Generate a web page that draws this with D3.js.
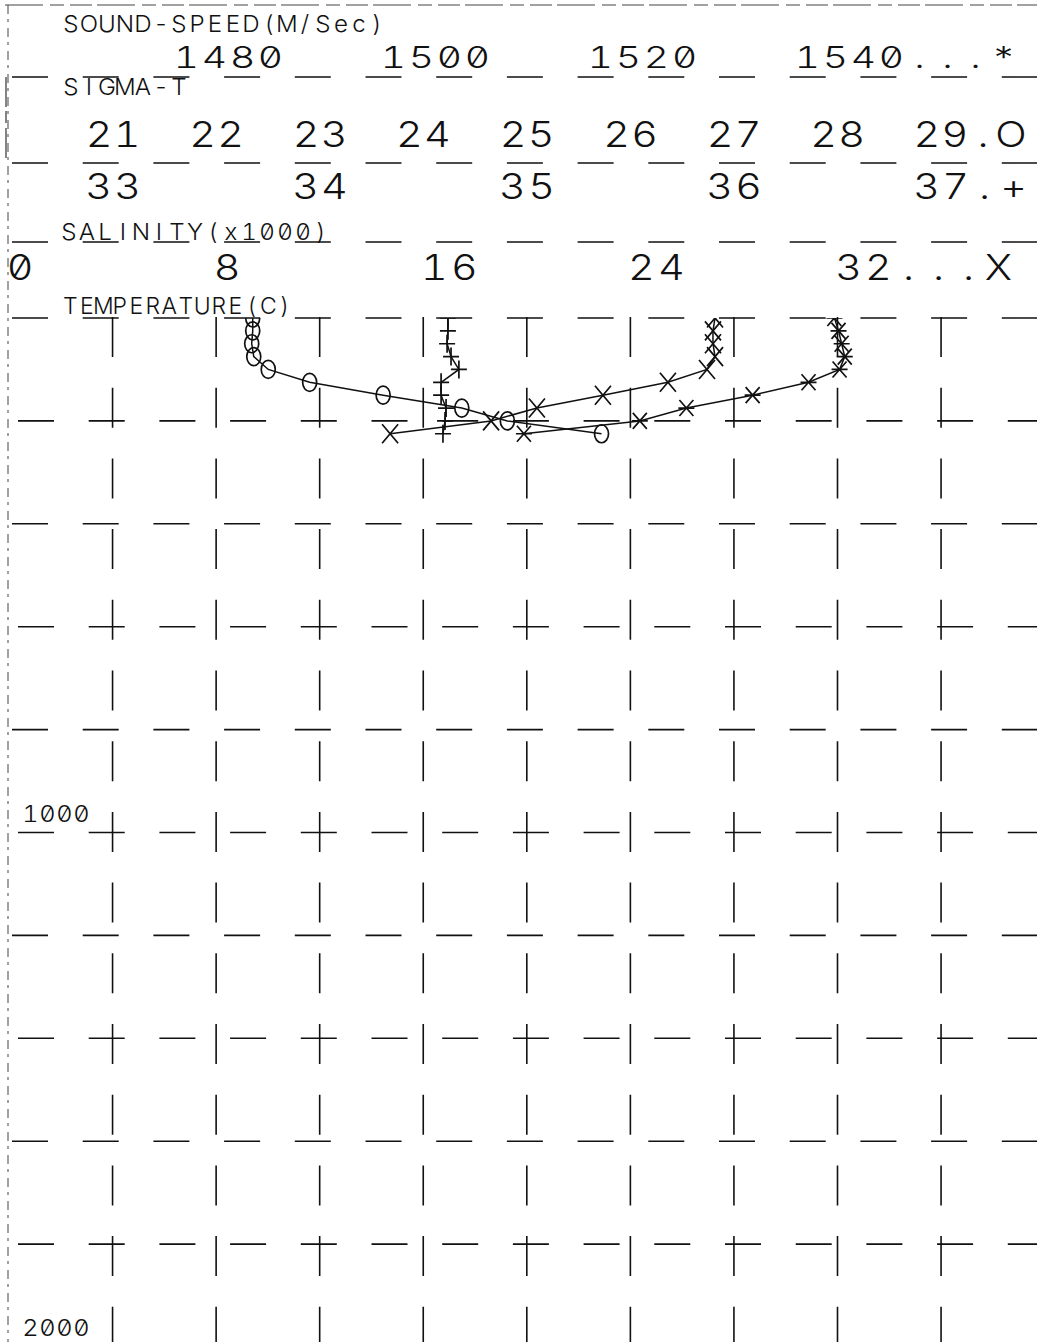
<!DOCTYPE html>
<html><head><meta charset="utf-8">
<script src="https://cdn.jsdelivr.net/npm/d3@7"></script>
<style>
html,body{margin:0;padding:0;background:#fff;}
svg{display:block;}
text{font-family:Inter,"DejaVu Sans",sans-serif;font-weight:300;fill:#111;
  font-feature-settings:"zero" 1,"tnum" 1;}
</style></head><body>
<svg id="c" width="1037" height="1342"></svg>
<script>
// ---- data ----
const depths      = [0, 25, 50, 75, 100, 125, 150, 175, 200, 225];
const temperature = [27.27, 27.19, 27.19, 27.27, 26.96, 25.45, 22.94, 20.39, 18.62, 14.72];
const salinity    = [34.618, 34.618, 34.614, 34.633, 34.671, 34.585, 34.585, 34.609, 34.604, 34.594];
const sigmaT      = [22.35, 22.35, 22.34, 22.36, 22.50, 22.90, 23.61, 24.37, 24.81, 25.72];
const soundSpeed  = [1539.7, 1540.1, 1540.4, 1540.7, 1540.2, 1537.2, 1531.8, 1525.4, 1520.9, 1509.7];

const soundTicks  = [1480, 1500, 1520, 1540];
const soundLabels = ["1480", "1500", "1520", "1540...*"];
const sigmaTicks  = [21, 22, 23, 24, 25, 26, 27, 28, 29];
const sigmaLabels = ["21", "22", "23", "24", "25", "26", "27", "28", "29.O"];
const salTicks    = [33, 34, 35, 36, 37];
const salLabels   = ["33", "34", "35", "36", "37.+"];
const tempTicks   = [0, 8, 16, 24, 32];
const tempLabels  = ["0", "8", "16", "24", "32...X"];
const depthTicks  = [1000, 2000];
const titles = {sound: "SOUND-SPEED(M/Sec)", sigma: "SIGMA-T", sal: "SALINITY(x1000)", temp: "TEMPERATURE(C)"};

// ---- scales ----
const W = 1037, H = 1342;
const xT   = d3.scaleLinear().domain([0, 32]).range([9, 837.5]);
const xSig = d3.scaleLinear().domain([21, 29]).range([113, 941]);
const xSal = d3.scaleLinear().domain([33, 37]).range([113, 941]);
const xSnd = d3.scaleLinear().domain([1480, 1540]).range([216.5, 837.5]);
const yD   = d3.scaleLinear().domain([0, 2000]).range([318, 1347]);

const svg = d3.select("#c");
const INK = "#111";
const PERIOD = 70.7, DASH = 36;

function hline(y, x0, phase0, w) {
  const off = ((x0 - phase0) % PERIOD + PERIOD) % PERIOD;
  svg.append("line").attr("x1", x0).attr("x2", W + 5).attr("y1", y).attr("y2", y)
    .attr("stroke", INK).attr("stroke-width", w || 1.6)
    .attr("stroke-dasharray", DASH + " " + (PERIOD - DASH))
    .attr("stroke-dashoffset", off);
}

// page frame (fine dashed)
svg.append("line").attr("x1", 5).attr("x2", W).attr("y1", 5).attr("y2", 5)
  .attr("stroke", "#444").attr("stroke-width", 1.1).attr("stroke-dasharray", "38 7 14 6 22 5");
svg.append("line").attr("x1", 8).attr("x2", 8).attr("y1", 5).attr("y2", H)
  .attr("stroke", "#555").attr("stroke-width", 1.1).attr("stroke-dasharray", "9 5 3 6");
svg.append("line").attr("x1", 6).attr("x2", 6).attr("y1", 77).attr("y2", 160)
  .attr("stroke", "#333").attr("stroke-width", 1.2).attr("stroke-dasharray", "30 4 12 5");

// header rows
hline(77, 12, 12, 1.4);
hline(163, 12, 12, 1.4);
hline(242, 12, 12, 1.4);

// grid
const vGrid = d3.range(4, 37, 4);
svg.append("g").selectAll("line").data(vGrid).join("line")
  .attr("x1", d => xT(d)).attr("x2", d => xT(d)).attr("y1", yD(0) - 1).attr("y2", H + 20)
  .attr("stroke", INK).attr("stroke-width", 1.6)
  .attr("stroke-dasharray", "40 " + (PERIOD - 40));
const hGrid = d3.range(0, 2001, 200);
hGrid.forEach((d, i) => hline(yD(d), 12, i % 2 ? 18 : 12, 1.6));

// plotter-style text: every character centred on a fixed pitch, glyphs widened by sx
function label(str, x0, y, fs, pitch, sx) {
  const xs = Array.from(str, (c, i) => ((x0 + pitch * (i + 0.5)) / sx).toFixed(2)).join(" ");
  svg.append("text").text(str)
    .attr("transform", `translate(0,${y}) scale(${sx},1)`)
    .attr("x", xs).attr("y", 0)
    .attr("font-size", fs).attr("text-anchor", "middle");
}

// titles
label(titles.sound, 62, 32, 23, 18, 1.05);
label(titles.sigma, 62, 95, 23, 18, 1.05);
label(titles.sal,   60, 240, 23, 18, 1.05);
label(titles.temp,  62, 314, 23, 16.5, 1.0);

// axis numbers
soundTicks.forEach((v, i) => label(soundLabels[i], xSnd(v) - 44, 68, 30, 28, 1.3));
sigmaTicks.forEach((v, i) => label(sigmaLabels[i], xSig(v) - 28, 147, 35, 28, 1.18));
salTicks.forEach((v, i) => label(salLabels[i], xSal(v) - 29, 199, 35, 29, 1.18));
tempTicks.forEach((v, i) => label(tempLabels[i], xT(v) - 4, 280, 35, 30, 1.18));
depthTicks.forEach(v => label(String(v), 22, yD(v) - 11, 23, 17, 1.1));

// series
svg.append("defs").append("clipPath").attr("id", "plot")
  .append("rect").attr("x", 0).attr("y", yD(0)).attr("width", W).attr("height", H);
const plot = svg.append("g").attr("clip-path", "url(#plot)");

const series = [
  {vals: temperature, x: xT,   mark: "M-8,-9.5L8,9.5M-8,9.5L8,-9.5"},
  {vals: salinity,    x: xSal, mark: "M-8,0L8,0M0,-9L0,9"},
  {vals: sigmaT,      x: xSig, mark: null},
  {vals: soundSpeed,  x: xSnd, mark: "M-7,-8L7,8M-7,8L7,-8M-8,0L8,0"}
];
series.forEach(s => {
  const pts = depths.map((d, i) => ({d, v: s.vals[i]}));
  const line = d3.line().x(p => s.x(p.v)).y(p => yD(p.d));
  plot.append("path").attr("d", line(pts)).attr("fill", "none")
    .attr("stroke", INK).attr("stroke-width", 1.5);
  const g = plot.append("g");
  pts.forEach(p => {
    if (s.mark) {
      g.append("path").attr("d", s.mark)
        .attr("transform", `translate(${s.x(p.v)},${yD(p.d)})`)
        .attr("fill", "none").attr("stroke", INK).attr("stroke-width", 1.7);
    } else {
      g.append("ellipse").attr("cx", s.x(p.v)).attr("cy", yD(p.d))
        .attr("rx", 7).attr("ry", 9)
        .attr("fill", "none").attr("stroke", INK).attr("stroke-width", 1.7);
    }
  });
});
</script>
</body></html>
